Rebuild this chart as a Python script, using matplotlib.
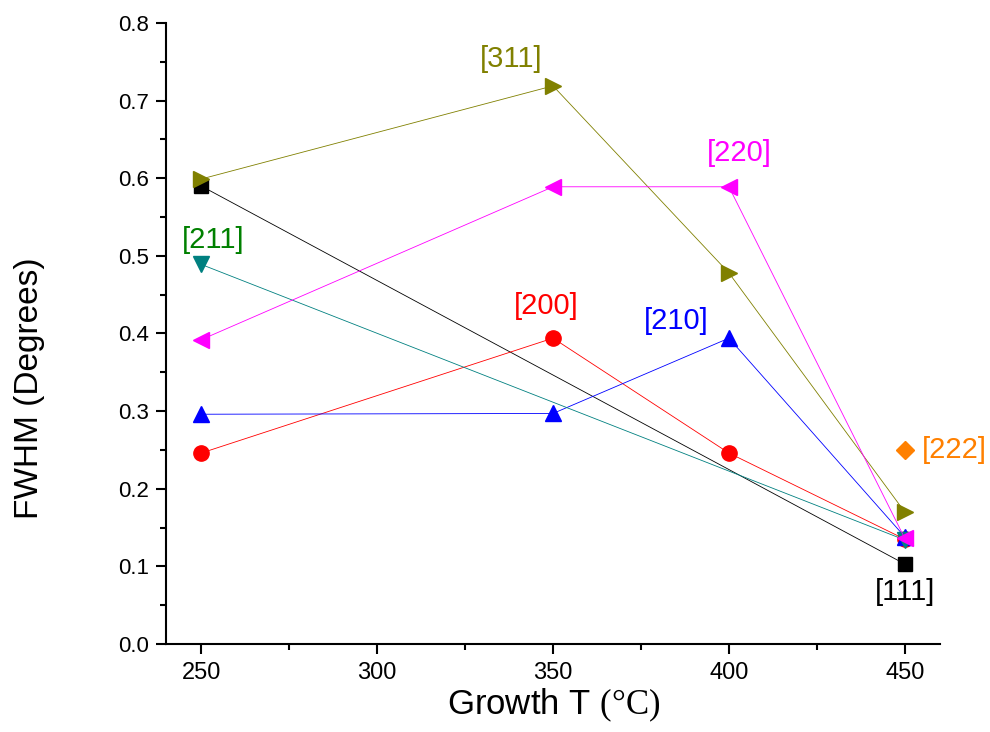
import matplotlib.pyplot as plt
from matplotlib.ticker import MultipleLocator

plt.rcParams['font.family'] = ['Liberation Sans', 'DejaVu Sans']
plt.rcParams['mathtext.fontset'] = 'custom'
plt.rcParams['mathtext.rm'] = 'Liberation Serif'

temps = [250, 350, 400, 450]

fwhm_111 = [0.590, 0.103]
temps_111 = [250, 450]
fwhm_200 = [0.246, 0.394, 0.246, 0.135]
fwhm_210 = [0.296, 0.297, 0.394, 0.138]
fwhm_211 = [0.489, 0.134]
temps_211 = [250, 450]
fwhm_220 = [0.392, 0.589, 0.589, 0.136]
fwhm_311 = [0.599, 0.719, 0.478, 0.170]
fwhm_222 = [0.250]
temps_222 = [450]

fig = plt.figure(figsize=(9.9, 7.32), dpi=100)
ax = fig.add_axes([0.1677, 0.1202, 0.7818, 0.8484])

ax.plot(temps_111, fwhm_111, color='black', lw=0.6, marker='s', ms=10)
ax.plot(temps, fwhm_200, color='red', lw=0.6, marker='o', ms=11)
ax.plot(temps, fwhm_210, color='blue', lw=0.6, marker='^', ms=12)
ax.plot(temps_211, fwhm_211, color='#008080', lw=0.6, marker='v', ms=12)
ax.plot(temps, fwhm_311, color='#808000', lw=0.6, marker='>', ms=12)
ax.plot(temps, fwhm_220, color='magenta', lw=0.6, marker='<', ms=12)
ax.plot(temps_222, fwhm_222, color='#FF8000', lw=0, marker='D', ms=9)

# crystal plane labels
lbl = dict(fontsize=21, ha='center', va='center')
ax.text(338, 0.753, '[311]', color='#808000', **lbl)
ax.text(403, 0.632, '[220]', color='magenta', **lbl)
ax.text(253.5, 0.521, '[211]', color='#008000', **lbl)
ax.text(348, 0.435, '[200]', color='red', **lbl)
ax.text(385, 0.416, '[210]', color='blue', **lbl)
ax.text(464, 0.250, '[222]', color='#FF8000', **lbl)
ax.text(450, 0.067, '[111]', color='black', **lbl)

ax.set_xlim(240, 460)
ax.set_ylim(0, 0.8)
ax.xaxis.set_major_locator(MultipleLocator(50))
ax.xaxis.set_minor_locator(MultipleLocator(25))
ax.yaxis.set_major_locator(MultipleLocator(0.1))
ax.yaxis.set_minor_locator(MultipleLocator(0.05))
ax.yaxis.set_major_formatter(plt.FormatStrFormatter('%.1f'))

for side in ['top', 'right']:
    ax.spines[side].set_visible(False)
for side in ['left', 'bottom']:
    ax.spines[side].set_linewidth(1.5)
ax.tick_params(which='major', direction='out', length=7, width=1.5)
ax.tick_params(axis='x', which='major', labelsize=17, pad=6)
ax.tick_params(axis='y', which='major', labelsize=16, pad=5)
ax.tick_params(which='minor', direction='out', length=4, width=1.5)

ax.set_xlabel(r'Growth T $\mathrm{(°C)}$', fontsize=25)
ax.set_ylabel('FWHM (Degrees)', fontsize=24)
ax.xaxis.set_label_coords(0.501, -0.068)
ax.yaxis.set_label_coords(-0.156, 0.412)

fig.savefig('out.png', dpi=100)
